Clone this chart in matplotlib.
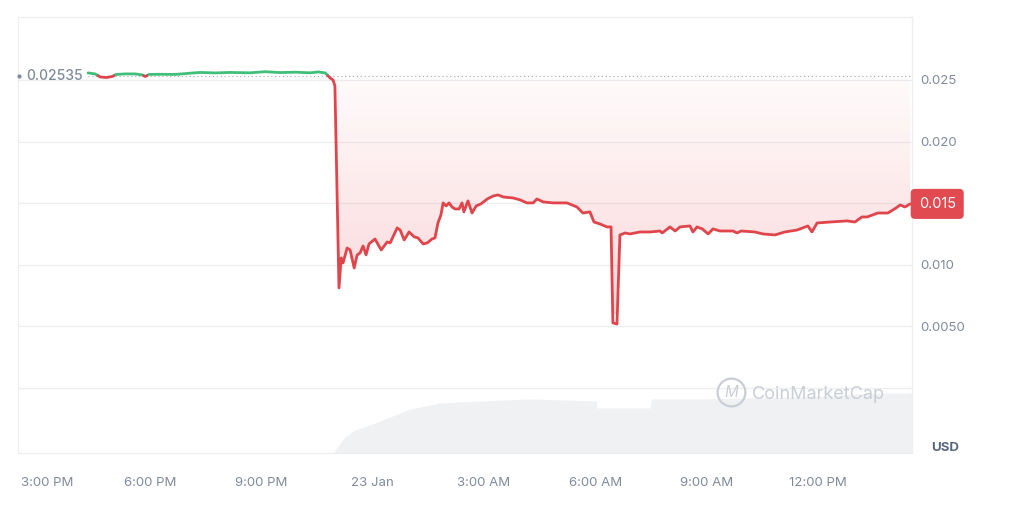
import numpy as np
import matplotlib
matplotlib.use("Agg")
from matplotlib import pyplot as plt
from matplotlib.patches import Polygon
from matplotlib.transforms import ScaledTranslation, blended_transform_factory

plt.rcParams['font.family'] = ['Inter', 'DejaVu Sans']

# hours after 22 Jan 00:00
hours = [16.32, 16.51, 16.65, 16.81, 16.97, 17.08, 17.32, 17.59, 17.78, 17.86,
         17.97, 18.26, 18.67, 19.02, 19.34, 19.75, 20.15, 20.69, 21.10, 21.50,
         21.91, 22.31, 22.53, 22.72, 22.85, 22.93, 22.98, 23.09, 23.15, 23.20,
         23.31, 23.39, 23.50, 23.58, 23.66, 23.74, 23.82, 23.90, 24.06, 24.23,
         24.39, 24.47, 24.66, 24.74, 24.85, 24.98, 25.12, 25.22, 25.36, 25.47,
         25.60, 25.68, 25.76, 25.84, 25.90, 25.98, 26.06, 26.14, 26.22, 26.33,
         26.41, 26.46, 26.57, 26.68, 26.79, 26.92, 27.09, 27.25, 27.38, 27.52,
         27.79, 27.98, 28.16, 28.33, 28.43, 28.60, 28.87, 29.24, 29.51, 29.67,
         29.86, 29.97, 30.13, 30.32, 30.43, 30.48, 30.59, 30.67, 30.81, 30.94,
         31.21, 31.48, 31.75, 31.81, 32.02, 32.16, 32.29, 32.56, 32.64, 32.75,
         32.89, 33.05, 33.18, 33.37, 33.72, 33.83, 33.94, 34.31, 34.53, 34.85,
         35.12, 35.45, 35.74, 35.85, 35.99, 36.34, 36.80, 37.01, 37.20, 37.34,
         37.63, 37.90, 38.12, 38.23, 38.36, 38.50]
prices = [0.02557, 0.02549, 0.02524, 0.02520, 0.02528, 0.02545, 0.02549, 0.02549, 0.02541, 0.02528,
          0.02545, 0.02546, 0.02545, 0.02553, 0.02561, 0.02557, 0.02561, 0.02558, 0.02567, 0.02560,
          0.02563, 0.02558, 0.02565, 0.02557, 0.02516, 0.02500, 0.02451, 0.00812, 0.01055, 0.01015,
          0.01136, 0.01120, 0.00974, 0.01080, 0.01096, 0.01153, 0.01080, 0.01169, 0.01209, 0.01120,
          0.01185, 0.01177, 0.01299, 0.01282, 0.01201, 0.01266, 0.01226, 0.01218, 0.01169, 0.01177,
          0.01209, 0.01218, 0.01339, 0.01404, 0.01502, 0.01477, 0.01502, 0.01469, 0.01453, 0.01453,
          0.01502, 0.01429, 0.01518, 0.01420, 0.01477, 0.01494, 0.01534, 0.01558, 0.01567, 0.01550,
          0.01542, 0.01526, 0.01502, 0.01502, 0.01534, 0.01510, 0.01502, 0.01502, 0.01469, 0.01420,
          0.01429, 0.01347, 0.01331, 0.01307, 0.01307, 0.00528, 0.00519, 0.01242, 0.01258, 0.01250,
          0.01266, 0.01266, 0.01274, 0.01258, 0.01307, 0.01274, 0.01307, 0.01315, 0.01266, 0.01307,
          0.01291, 0.01250, 0.01291, 0.01274, 0.01274, 0.01258, 0.01274, 0.01266, 0.01250, 0.01242,
          0.01266, 0.01282, 0.01315, 0.01266, 0.01339, 0.01347, 0.01356, 0.01347, 0.01388, 0.01388,
          0.01420, 0.01420, 0.01461, 0.01485, 0.01469, 0.01494]
open_price = 0.02535

vol_hours = [22.93, 23.25, 23.52, 23.93, 24.74, 25.01, 25.82, 26.90, 28.25, 30.03,
             30.05, 31.48, 31.51, 32.83, 35.53, 37.69, 38.55]
volume = [0, 16, 23, 28, 40, 44, 50, 52, 54, 52, 45, 45, 54, 54, 56, 60, 60]

tick_hours = [15, 18, 21, 24, 27, 30, 33, 36]
tick_names = ['3:00 PM', '6:00 PM', '9:00 PM', '23 Jan', '3:00 AM', '6:00 AM', '9:00 AM', '12:00 PM']
price_ticks = [0.0, 0.005, 0.010, 0.015, 0.020, 0.025]
price_names = ['', '0.0050', '0.010', '', '0.020', '0.025']

RED = '#e0454b'
GREEN = '#3fbf7a'
GREY = '#808a9d'
GRID = '#eceef2'

t = np.array(hours)
p = np.array(prices)

# add crossing points so the green and red parts join
tt, pp = [t[0]], [p[0]]
for i in range(1, len(t)):
    a, b = p[i - 1] - open_price, p[i] - open_price
    if a * b < 0:
        f = a / (a - b)
        tt.append(t[i - 1] + f * (t[i] - t[i - 1]))
        pp.append(open_price)
    tt.append(t[i])
    pp.append(p[i])
tt, pp = np.array(tt), np.array(pp)

fig = plt.figure(figsize=(10.24, 5.11), dpi=100)
ax = fig.add_axes([18 / 1024, 58 / 511, 894 / 1024, 436 / 511])
vax = ax.twinx()
vax.set_zorder(ax.get_zorder() - 1)
ax.patch.set_visible(False)
vax.patch.set_facecolor('white')

# volume
vax.fill_between(vol_hours, volume, 0, color='#f0f1f3', lw=0)
vax.set_ylim(0, 436)
vax.set_yticks([])
for s in vax.spines.values():
    s.set_visible(False)

ax.set_xlim(14.43, 38.55)
ax.set_ylim(-0.00528, 0.03011)

# gradient fill under the open price
mask = tt >= 22.8
poly_t = np.concatenate([tt[mask], [tt[mask][-1], tt[mask][0]]])
poly_p = np.concatenate([pp[mask], [open_price, open_price]])
poly = Polygon(np.column_stack([poly_t, poly_p]), closed=True, fc='none', ec='none')
ax.add_patch(poly)
grad = np.zeros((100, 1, 4))
grad[..., 0] = 0.92
grad[..., 1] = 0.22
grad[..., 2] = 0.26
grad[:, 0, 3] = np.linspace(0.2, 0.02, 100)
img = ax.imshow(grad, extent=[22.8, 38.55, 0.006, open_price], origin='lower',
                aspect='auto', zorder=1, interpolation='bilinear')
img.set_clip_path(poly)

ax.plot(tt, np.where(pp >= open_price, pp, np.nan), color=GREEN, lw=2.0, zorder=4,
        solid_capstyle='round', solid_joinstyle='round')
ax.plot(tt, np.where(pp <= open_price, pp, np.nan), color=RED, lw=2.0, zorder=4,
        solid_capstyle='round', solid_joinstyle='round')

# open price reference
ax.plot([t[0], 38.55], [open_price, open_price], color='#a6acb8', lw=0.8,
        ls=(0, (1, 2.5)), zorder=3)
ax.plot([14.47], [open_price], marker='o', ms=2, color=GREY, zorder=5, clip_on=False)
ax.text(14.66, open_price, '0.02535', color=GREY, fontsize=10, fontweight='medium',
        va='center', ha='left', zorder=5)

# axes styling
ax.set_yticks(price_ticks)
ax.set_yticklabels(price_names)
ax.yaxis.tick_right()
ax.grid(axis='y', color=GRID, lw=0.9)
ax.set_axisbelow(True)
ax.tick_params(axis='y', length=0, pad=6, labelsize=9.5, labelcolor=GREY)
ax.set_xticks(tick_hours)
ax.set_xticklabels(tick_names)
ax.tick_params(axis='x', length=0, pad=17, labelsize=9.5, labelcolor=GREY)
first = ax.get_xticklabels()[0]
first.set_transform(first.get_transform() + ScaledTranslation(0.08, 0, fig.dpi_scale_trans))
for s in ax.spines.values():
    s.set_color(GRID)
    s.set_linewidth(0.9)

# last price tag
ax.text(1.0075, p[-1], '0.015', transform=blended_transform_factory(ax.transAxes, ax.transData),
        color='white', fontsize=10.5, ha='left', va='center', zorder=6,
        bbox=dict(boxstyle='round,pad=0.55,rounding_size=0.3', fc='#e04a50', ec='none'))

ax.text(1.037, 0.0115, 'USD', transform=ax.transAxes, color='#58667e', fontsize=9.5,
        fontweight='bold', ha='center', va='center')

# watermark
ax.plot([0.7975], [0.14], transform=ax.transAxes, marker='o', ms=20, mfc='none',
        mec='#c9ced6', mew=1.6, zorder=2)
ax.text(0.7975, 0.138, 'M', transform=ax.transAxes, color='#c9ced6', fontsize=11,
        style='italic', ha='center', va='center', zorder=2)
ax.text(0.821, 0.1353, 'CoinMarketCap', transform=ax.transAxes, color='#c9ced6',
        fontsize=13, ha='left', va='center', zorder=2)

fig.savefig('out.png', dpi=100, facecolor='white')
